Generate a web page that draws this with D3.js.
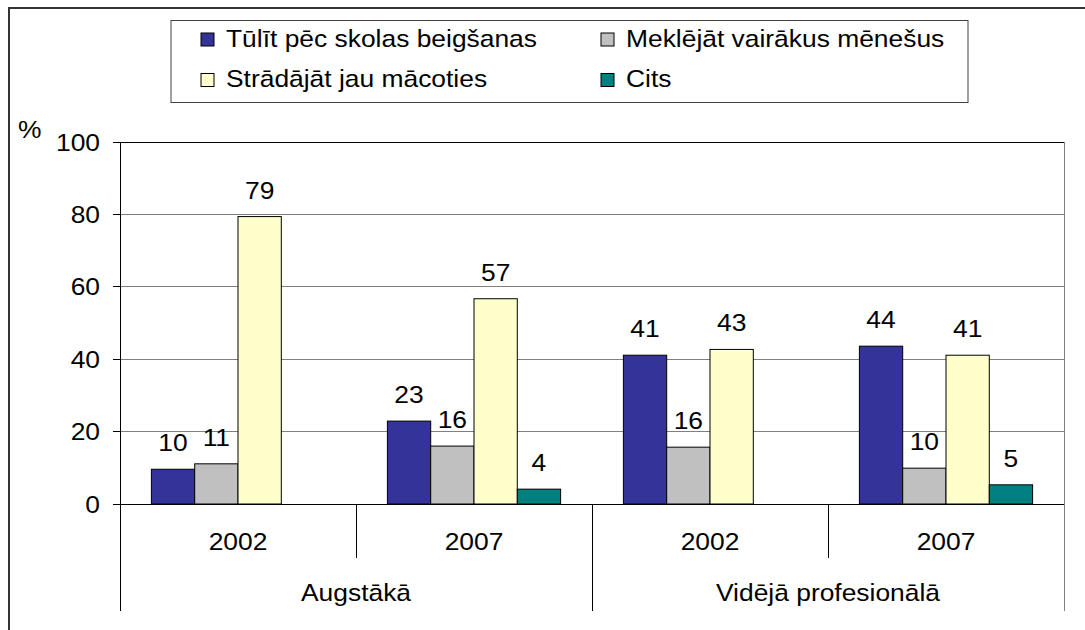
<!DOCTYPE html>
<html>
<head>
<meta charset="utf-8">
<script src="https://cdn.jsdelivr.net/npm/d3@7/dist/d3.min.js"></script>
<style>
  body { margin: 0; background: #fff; }
  text { font-family: "Liberation Sans", Arial, sans-serif; font-size: 24px; fill: #000; }
</style>
</head>
<body>
<svg id="visframe" width="1085" height="630"></svg>
<script>
// data
var groups = ["Augstākā", "Vidējā profesionālā"];
var years = ["2002", "2007"];
var seriesNames = ["Tūlīt pēc skolas beigšanas", "Meklējāt vairākus mēnešus",
                   "Strādājāt jau mācoties", "Cits"];
var tulit = [9.6, 22.9, 41.1, 43.6];
var meklejat = [11.1, 16.0, 15.7, 9.9];
var stradajat = [79.4, 56.7, 42.7, 41.1];
var cits = [null, 4.1, null, 5.3];
var yTicks = [0, 20, 40, 60, 80, 100];

var colors = ["#333399", "#C0C0C0", "#FFFFCC", "#008080"];
var sx = 1.1; // text looks a bit wide in the original

var plot = { left: 120, right: 1064, top: 142, bottom: 504 };

var svg = d3.select("#visframe");

// stretched text helper
function stext(parent, x, y, txt, anchor) {
    var g = parent.append("g")
        .attr("transform", "translate(" + x + "," + y + ") scale(" + sx + ",1)");
    g.append("text")
        .attr("text-anchor", anchor || "start")
        .text(txt);
    return g;
}

// outer border
svg.append("rect")
    .attr("x", 9).attr("y", 8)
    .attr("width", 1200).attr("height", 800)
    .attr("fill", "none")
    .attr("stroke", "#333")
    .attr("stroke-width", 2);

// categories: group x year
var cats = [];
groups.forEach(function(g) {
    years.forEach(function(y) { cats.push(g + "|" + y); });
});

var values = [tulit, meklejat, stradajat, cits];
var data = cats.map(function(c, i) {
    return seriesNames.map(function(s, j) {
        return { cat: c, key: s, idx: j, value: values[j][i] };
    });
});

var x0 = d3.scaleBand().domain(cats).range([plot.left, plot.right]);
var x1 = d3.scaleBand().domain(seriesNames).range([0, x0.bandwidth()]).paddingOuter(0.725);
var y = d3.scaleLinear().domain([0, 100]).range([plot.bottom, plot.top]);
var xg = d3.scaleBand().domain(groups).range([plot.left, plot.right]);

// gridlines
svg.append("g").selectAll("line")
    .data(yTicks.filter(function(t) { return t > 0; }))
    .enter().append("line")
    .attr("x1", plot.left).attr("x2", plot.right)
    .attr("y1", function(d) { return y(d); })
    .attr("y2", function(d) { return y(d); })
    .attr("stroke", function(d) { return d == 100 ? "#000" : "#808080"; })
    .attr("stroke-width", 1)
    .attr("shape-rendering", "crispEdges");

// right border of plot
svg.append("line")
    .attr("x1", plot.right).attr("x2", plot.right)
    .attr("y1", plot.top).attr("y2", plot.bottom)
    .attr("stroke", "#808080")
    .attr("shape-rendering", "crispEdges");

// bars
var catG = svg.append("g").selectAll("g")
    .data(data)
    .enter().append("g")
    .attr("transform", function(d, i) { return "translate(" + x0(cats[i]) + ",0)"; });

catG.selectAll("rect")
    .data(function(d) { return d.filter(function(v) { return v.value != null; }); })
    .enter().append("rect")
    .attr("x", function(d) { return x1(d.key); })
    .attr("y", function(d) { return y(d.value); })
    .attr("width", x1.bandwidth())
    .attr("height", function(d) { return y(0) - y(d.value); })
    .attr("fill", function(d) { return colors[d.idx]; })
    .attr("stroke", "#000")
    .attr("stroke-width", 1);

// value labels
catG.each(function(d) {
    var g = d3.select(this);
    d.forEach(function(v) {
        if (v.value == null) return;
        stext(g, x1(v.key) + x1.bandwidth() / 2, y(v.value) - 18, d3.format(".0f")(v.value), "middle");
    });
});

// y axis
var yAx = svg.append("g");
yAx.append("line")
    .attr("x1", plot.left).attr("x2", plot.left)
    .attr("y1", plot.top).attr("y2", 611)
    .attr("stroke", "#000")
    .attr("shape-rendering", "crispEdges");
yTicks.forEach(function(t) {
    yAx.append("line")
        .attr("x1", plot.left - 7).attr("x2", plot.left)
        .attr("y1", y(t)).attr("y2", y(t))
        .attr("stroke", "#000")
        .attr("shape-rendering", "crispEdges");
    stext(yAx, 100, y(t) + 8.5, t, "end");
});
stext(svg, 18, 138, "%", "start");

// x axis baseline
svg.append("line")
    .attr("x1", plot.left - 7).attr("x2", plot.right)
    .attr("y1", y(0)).attr("y2", y(0))
    .attr("stroke", "#000")
    .attr("shape-rendering", "crispEdges");

// category ticks: short between years, long between groups
var xAx = svg.append("g");
cats.forEach(function(c, i) {
    var isGroupStart = i % years.length == 0;
    xAx.append("line")
        .attr("x1", x0(c)).attr("x2", x0(c))
        .attr("y1", y(0)).attr("y2", isGroupStart ? 611 : 558)
        .attr("stroke", "#000")
        .attr("shape-rendering", "crispEdges");
    stext(xAx, x0(c) + x0.bandwidth() / 2, 550, c.split("|")[1], "middle");
});
xAx.append("line")
    .attr("x1", plot.right).attr("x2", plot.right)
    .attr("y1", y(0)).attr("y2", 611)
    .attr("stroke", "#808080")
    .attr("shape-rendering", "crispEdges");
groups.forEach(function(g) {
    stext(xAx, xg(g) + xg.bandwidth() / 2, 601, g, "middle");
});

// legend
var legend = svg.append("g");
legend.append("rect")
    .attr("x", 171).attr("y", 20.5)
    .attr("width", 797).attr("height", 82)
    .attr("fill", "#fff")
    .attr("stroke", "#404040")
    .attr("stroke-width", 1);
var legX = [201, 601];
var legY = [33, 73.5];
seriesNames.forEach(function(s, i) {
    var lx = legX[i % 2], ly = legY[Math.floor(i / 2)];
    legend.append("rect")
        .attr("x", lx).attr("y", ly)
        .attr("width", 13).attr("height", 13)
        .attr("fill", colors[i])
        .attr("stroke", "#000")
        .attr("stroke-width", 1);
    stext(legend, lx + 25, ly + 13.5, s, "start");
});
</script>
</body>
</html>
